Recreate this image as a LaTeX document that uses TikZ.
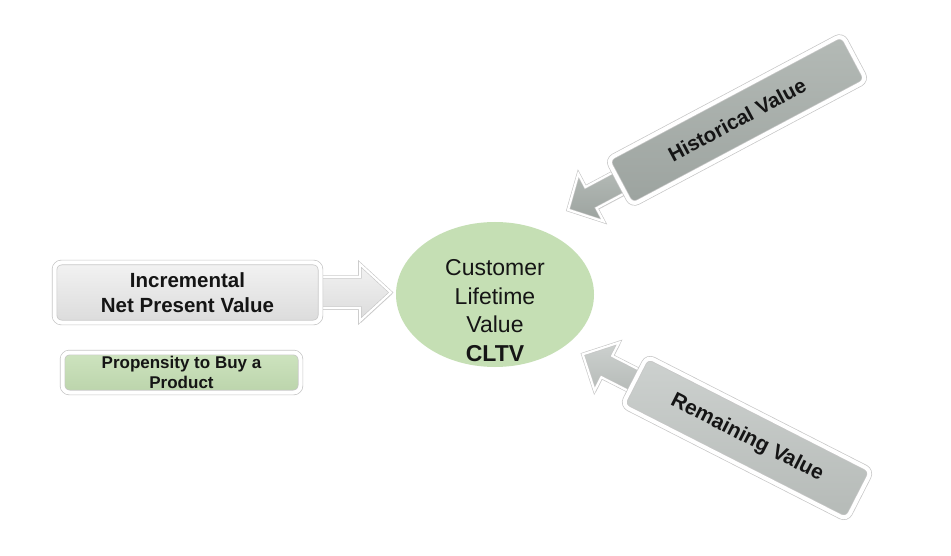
\documentclass[tikz,border=0pt]{standalone}
\usepackage{fontspec}
\setmainfont{Liberation Sans}
\usetikzlibrary{shadows,shapes.geometric,calc}
\definecolor{ellgreen}{HTML}{C5DFB4}
\definecolor{txt}{HTML}{151515}
\definecolor{histtop}{HTML}{B4BAB6}
\definecolor{histbot}{HTML}{9CA39F}
\definecolor{remtop}{HTML}{CDD1CF}
\definecolor{rembot}{HTML}{B5BAB7}
\pgfdeclarelayer{bg}
\pgfdeclarelayer{arrowlayer}
\pgfsetlayers{bg,arrowlayer,main}
\begin{document}
\begin{tikzpicture}[x=1pt,y=-1pt,
  card/.style={rectangle, rounded corners=7pt, draw=gray!45, line width=0.7pt,
    double=white, double distance=4pt,
    drop shadow={opacity=0.3, shadow xshift=1.2pt, shadow yshift=-1.8pt},
    font=\bfseries, text=txt, align=center, inner sep=0pt},
  barrow/.style={draw=gray!45, line width=0.6pt, double=white, double distance=2.2pt, line join=miter,
    drop shadow={opacity=0.3, shadow xshift=1.2pt, shadow yshift=-1.8pt}}
]
\begin{pgfonlayer}{bg}
\fill[white] (0,0) rectangle (951,556);
\end{pgfonlayer}
\useasboundingbox (0,0) rectangle (951,556);

% central ellipse
\node[ellipse, fill=ellgreen, minimum width=198pt, minimum height=145pt, inner sep=0pt,
  label={[yshift=-16pt, font=\fontsize{23}{28.5}\selectfont, text=txt, align=center]center:Customer\\Lifetime\\Value\\{\bfseries CLTV}}]
  (cltv) at (495,294.5) {};

% left cards
\node[card, minimum width=266pt, minimum height=60pt, top color=gray!10, bottom color=gray!28,
  font=\bfseries\fontsize{20.5}{25}\selectfont] (inc) at (187.5,292.5) {Incremental\\Net Present Value};
\node[card, minimum width=238pt, minimum height=40pt, top color=ellgreen!85, bottom color=ellgreen!95!black,
  font=\bfseries\fontsize{17}{20}\selectfont] (prop) at (181.5,372.5) {Propensity to Buy a\\Product};

% rotated cards
\node[card, rotate=28, minimum width=266pt, minimum height=52pt, top color=histtop, bottom color=histbot,
  font=\bfseries\fontsize{20.5}{24}\selectfont] (hist) at (737,120) {Historical Value};
\node[card, rotate=-27, minimum width=252pt, minimum height=55pt, top color=remtop, bottom color=rembot,
  font=\bfseries\fontsize{21}{24}\selectfont] (rem) at (747,438) {Remaining Value};

% block arrows
\begin{pgfonlayer}{arrowlayer}
\begin{scope}[shift={(inc.east)}]
  \draw[barrow, top color=gray!10, bottom color=gray!28]
    (-6,-15.5) -- (39,-15.5) -- (39,-28.5) -- (70,0) -- (39,28.5) -- (39,15.5) -- (-6,15.5) -- cycle;
\end{scope}
\begin{scope}[shift={(hist.west)}, rotate=208]
  \draw[barrow, top color=histtop, bottom color=histbot]
    (-6,-12) -- (32,-12) -- (32,-27) -- (58,0) -- (32,27) -- (32,12) -- (-6,12) -- cycle;
\end{scope}
\begin{scope}[shift={(rem.west)}, rotate=153]
  \draw[barrow, top color=remtop, bottom color=rembot]
    (-6,-12) -- (31,-12) -- (31,-27) -- (58,0) -- (31,27) -- (31,12) -- (-6,12) -- cycle;
\end{scope}
\end{pgfonlayer}
\end{tikzpicture}
\end{document}
